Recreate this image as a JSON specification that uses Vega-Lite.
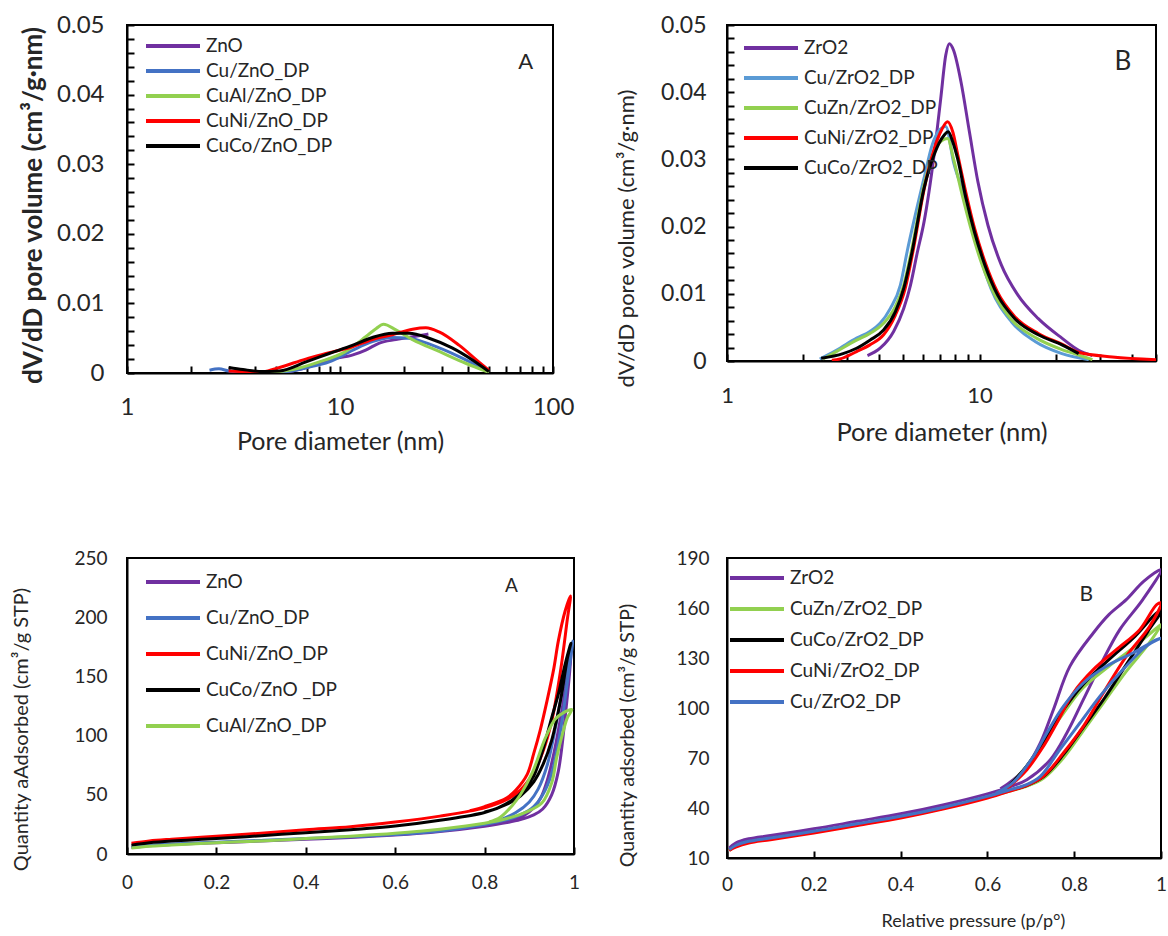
{
  "$schema": "https://vega.github.io/schema/vega-lite/v6.json",
  "padding": {"left": 10, "top": 12, "right": 0, "bottom": 0},
  "background": "white",
  "config": {
    "font": "Lato",
    "view": {"stroke": "#000", "strokeWidth": 2},
    "axis": {"grid": false, "domainColor": "#000", "domainWidth": 2, "tickColor": "#000", "tickWidth": 2, "labelColor": "#262626", "titleColor": "#262626", "labelFont": "Lato", "titleFont": "Lato", "labelFlush": false, "labelOverlap": false, "titleFontWeight": "normal"},
    "legend": {"labelFont": "Lato", "labelColor": "#262626", "padding": 0, "symbolType": "M-2.7,0H2.7", "symbolSize": 400, "symbolStrokeWidth": 4, "labelLimit": 300},
    "text": {"font": "Lato", "color": "#262626"}
  },
  "datasets": {
    "tl": [
      {"s": "ZnO", "d": 4.5, "v": 0.0},
      {"s": "ZnO", "d": 6, "v": 0.0003},
      {"s": "ZnO", "d": 7, "v": 0.0008},
      {"s": "ZnO", "d": 8.9, "v": 0.0019},
      {"s": "ZnO", "d": 11.5, "v": 0.0026},
      {"s": "ZnO", "d": 13.2, "v": 0.0033},
      {"s": "ZnO", "d": 15.3, "v": 0.0043},
      {"s": "ZnO", "d": 18.3, "v": 0.0048},
      {"s": "ZnO", "d": 21.9, "v": 0.0052},
      {"s": "ZnO", "d": 26, "v": 0.0056},
      {"s": "Cu/ZnO_DP", "d": 2.44, "v": 0.0004},
      {"s": "Cu/ZnO_DP", "d": 2.7, "v": 0.0006},
      {"s": "Cu/ZnO_DP", "d": 3.0, "v": 0.0003},
      {"s": "Cu/ZnO_DP", "d": 3.5, "v": 0.0001},
      {"s": "Cu/ZnO_DP", "d": 5.2, "v": 0.0001},
      {"s": "Cu/ZnO_DP", "d": 7.06, "v": 0.0008},
      {"s": "Cu/ZnO_DP", "d": 8.9, "v": 0.0016},
      {"s": "Cu/ZnO_DP", "d": 11.5, "v": 0.0033},
      {"s": "Cu/ZnO_DP", "d": 14.2, "v": 0.0045},
      {"s": "Cu/ZnO_DP", "d": 17.6, "v": 0.0051},
      {"s": "Cu/ZnO_DP", "d": 21, "v": 0.005},
      {"s": "Cu/ZnO_DP", "d": 27.1, "v": 0.004},
      {"s": "Cu/ZnO_DP", "d": 36, "v": 0.0024},
      {"s": "Cu/ZnO_DP", "d": 50, "v": 0.0002},
      {"s": "CuAl/ZnO_DP", "d": 4.5, "v": 0.0},
      {"s": "CuAl/ZnO_DP", "d": 6, "v": 0.0005},
      {"s": "CuAl/ZnO_DP", "d": 8, "v": 0.0016},
      {"s": "CuAl/ZnO_DP", "d": 10.5, "v": 0.003},
      {"s": "CuAl/ZnO_DP", "d": 13.2, "v": 0.0052},
      {"s": "CuAl/ZnO_DP", "d": 14.8, "v": 0.0064},
      {"s": "CuAl/ZnO_DP", "d": 16, "v": 0.007},
      {"s": "CuAl/ZnO_DP", "d": 18.3, "v": 0.0062},
      {"s": "CuAl/ZnO_DP", "d": 21.9, "v": 0.0048},
      {"s": "CuAl/ZnO_DP", "d": 29.2, "v": 0.0031},
      {"s": "CuAl/ZnO_DP", "d": 38.9, "v": 0.0014},
      {"s": "CuAl/ZnO_DP", "d": 50, "v": 0.0001},
      {"s": "CuNi/ZnO_DP", "d": 3, "v": 0.0003},
      {"s": "CuNi/ZnO_DP", "d": 3.5, "v": 0.0002},
      {"s": "CuNi/ZnO_DP", "d": 4.35, "v": 0.0002},
      {"s": "CuNi/ZnO_DP", "d": 5.2, "v": 0.0008},
      {"s": "CuNi/ZnO_DP", "d": 6.9, "v": 0.002},
      {"s": "CuNi/ZnO_DP", "d": 8.9, "v": 0.0029},
      {"s": "CuNi/ZnO_DP", "d": 11.5, "v": 0.0038},
      {"s": "CuNi/ZnO_DP", "d": 14.2, "v": 0.0048},
      {"s": "CuNi/ZnO_DP", "d": 17.6, "v": 0.0055},
      {"s": "CuNi/ZnO_DP", "d": 21.9, "v": 0.0063},
      {"s": "CuNi/ZnO_DP", "d": 25.3, "v": 0.0065},
      {"s": "CuNi/ZnO_DP", "d": 29.2, "v": 0.0059},
      {"s": "CuNi/ZnO_DP", "d": 36.2, "v": 0.004},
      {"s": "CuNi/ZnO_DP", "d": 44.8, "v": 0.0016},
      {"s": "CuNi/ZnO_DP", "d": 50, "v": 0.0004},
      {"s": "CuCo/ZnO_DP", "d": 3.01, "v": 0.0008},
      {"s": "CuCo/ZnO_DP", "d": 3.5, "v": 0.0005},
      {"s": "CuCo/ZnO_DP", "d": 4.35, "v": 0.0002},
      {"s": "CuCo/ZnO_DP", "d": 5.2, "v": 0.0003},
      {"s": "CuCo/ZnO_DP", "d": 6.93, "v": 0.0016},
      {"s": "CuCo/ZnO_DP", "d": 8.9, "v": 0.0028},
      {"s": "CuCo/ZnO_DP", "d": 11.5, "v": 0.004},
      {"s": "CuCo/ZnO_DP", "d": 14.2, "v": 0.0051},
      {"s": "CuCo/ZnO_DP", "d": 17.6, "v": 0.0057},
      {"s": "CuCo/ZnO_DP", "d": 21.1, "v": 0.0057},
      {"s": "CuCo/ZnO_DP", "d": 26.2, "v": 0.005},
      {"s": "CuCo/ZnO_DP", "d": 33.6, "v": 0.0036},
      {"s": "CuCo/ZnO_DP", "d": 41.7, "v": 0.0019},
      {"s": "CuCo/ZnO_DP", "d": 50, "v": 0.0002}
    ],
    "tr": [
      {"s": "ZrO2", "d": 3.6, "v": 0.0008},
      {"s": "ZrO2", "d": 4.04, "v": 0.0019},
      {"s": "ZrO2", "d": 4.57, "v": 0.0044},
      {"s": "ZrO2", "d": 5.01, "v": 0.0078},
      {"s": "ZrO2", "d": 5.33, "v": 0.0113},
      {"s": "ZrO2", "d": 5.66, "v": 0.016},
      {"s": "ZrO2", "d": 6.03, "v": 0.0207},
      {"s": "ZrO2", "d": 6.61, "v": 0.0307},
      {"s": "ZrO2", "d": 7.02, "v": 0.039},
      {"s": "ZrO2", "d": 7.35, "v": 0.0455},
      {"s": "ZrO2", "d": 7.6, "v": 0.0472},
      {"s": "ZrO2", "d": 7.9, "v": 0.0462},
      {"s": "ZrO2", "d": 8.44, "v": 0.0416},
      {"s": "ZrO2", "d": 9.12, "v": 0.0341},
      {"s": "ZrO2", "d": 9.85, "v": 0.0267},
      {"s": "ZrO2", "d": 10.8, "v": 0.0202},
      {"s": "ZrO2", "d": 12.2, "v": 0.0143},
      {"s": "ZrO2", "d": 14.2, "v": 0.0098},
      {"s": "ZrO2", "d": 17.1, "v": 0.0063},
      {"s": "ZrO2", "d": 21.2, "v": 0.0034},
      {"s": "ZrO2", "d": 24.7, "v": 0.0016},
      {"s": "ZrO2", "d": 28, "v": 0.0008},
      {"s": "Cu/ZrO2_DP", "d": 2.33, "v": 0.0003},
      {"s": "Cu/ZrO2_DP", "d": 2.71, "v": 0.0016},
      {"s": "Cu/ZrO2_DP", "d": 3.26, "v": 0.0034},
      {"s": "Cu/ZrO2_DP", "d": 3.68, "v": 0.0044},
      {"s": "Cu/ZrO2_DP", "d": 4.04, "v": 0.0056},
      {"s": "Cu/ZrO2_DP", "d": 4.43, "v": 0.0078},
      {"s": "Cu/ZrO2_DP", "d": 4.86, "v": 0.0113},
      {"s": "Cu/ZrO2_DP", "d": 5.17, "v": 0.0163},
      {"s": "Cu/ZrO2_DP", "d": 6.03, "v": 0.0272},
      {"s": "Cu/ZrO2_DP", "d": 6.5, "v": 0.0322},
      {"s": "Cu/ZrO2_DP", "d": 7.0, "v": 0.0345},
      {"s": "Cu/ZrO2_DP", "d": 7.35, "v": 0.0349},
      {"s": "Cu/ZrO2_DP", "d": 7.9, "v": 0.0295},
      {"s": "Cu/ZrO2_DP", "d": 8.98, "v": 0.0232},
      {"s": "Cu/ZrO2_DP", "d": 9.85, "v": 0.0168},
      {"s": "Cu/ZrO2_DP", "d": 11.1, "v": 0.0108},
      {"s": "Cu/ZrO2_DP", "d": 13.4, "v": 0.0058},
      {"s": "Cu/ZrO2_DP", "d": 16.6, "v": 0.0029},
      {"s": "Cu/ZrO2_DP", "d": 21.2, "v": 0.0011},
      {"s": "Cu/ZrO2_DP", "d": 27.1, "v": 0.0002},
      {"s": "CuZn/ZrO2_DP", "d": 2.4, "v": 0.0003},
      {"s": "CuZn/ZrO2_DP", "d": 2.71, "v": 0.0014},
      {"s": "CuZn/ZrO2_DP", "d": 3.26, "v": 0.0031},
      {"s": "CuZn/ZrO2_DP", "d": 3.68, "v": 0.0041},
      {"s": "CuZn/ZrO2_DP", "d": 4.17, "v": 0.0056},
      {"s": "CuZn/ZrO2_DP", "d": 4.64, "v": 0.0081},
      {"s": "CuZn/ZrO2_DP", "d": 5.01, "v": 0.0113},
      {"s": "CuZn/ZrO2_DP", "d": 5.37, "v": 0.0163},
      {"s": "CuZn/ZrO2_DP", "d": 6.03, "v": 0.0262},
      {"s": "CuZn/ZrO2_DP", "d": 6.61, "v": 0.0312},
      {"s": "CuZn/ZrO2_DP", "d": 7.1, "v": 0.0328},
      {"s": "CuZn/ZrO2_DP", "d": 7.47, "v": 0.0331},
      {"s": "CuZn/ZrO2_DP", "d": 7.9, "v": 0.03},
      {"s": "CuZn/ZrO2_DP", "d": 8.5, "v": 0.025},
      {"s": "CuZn/ZrO2_DP", "d": 9.2, "v": 0.02},
      {"s": "CuZn/ZrO2_DP", "d": 10.2, "v": 0.0145},
      {"s": "CuZn/ZrO2_DP", "d": 11.5, "v": 0.0098},
      {"s": "CuZn/ZrO2_DP", "d": 13.5, "v": 0.006},
      {"s": "CuZn/ZrO2_DP", "d": 16.8, "v": 0.0034},
      {"s": "CuZn/ZrO2_DP", "d": 21.2, "v": 0.0017},
      {"s": "CuZn/ZrO2_DP", "d": 24.7, "v": 0.0009},
      {"s": "CuZn/ZrO2_DP", "d": 28, "v": 0.0002},
      {"s": "CuNi/ZrO2_DP", "d": 2.6, "v": 0.0001},
      {"s": "CuNi/ZrO2_DP", "d": 2.8, "v": 0.0003},
      {"s": "CuNi/ZrO2_DP", "d": 3.26, "v": 0.0014},
      {"s": "CuNi/ZrO2_DP", "d": 3.68, "v": 0.0024},
      {"s": "CuNi/ZrO2_DP", "d": 4.17, "v": 0.0039},
      {"s": "CuNi/ZrO2_DP", "d": 4.64, "v": 0.0068},
      {"s": "CuNi/ZrO2_DP", "d": 5.08, "v": 0.0108},
      {"s": "CuNi/ZrO2_DP", "d": 5.45, "v": 0.0163},
      {"s": "CuNi/ZrO2_DP", "d": 6.03, "v": 0.0255},
      {"s": "CuNi/ZrO2_DP", "d": 6.61, "v": 0.0315},
      {"s": "CuNi/ZrO2_DP", "d": 7.1, "v": 0.0345},
      {"s": "CuNi/ZrO2_DP", "d": 7.47, "v": 0.0356},
      {"s": "CuNi/ZrO2_DP", "d": 7.85, "v": 0.034},
      {"s": "CuNi/ZrO2_DP", "d": 8.19, "v": 0.0308},
      {"s": "CuNi/ZrO2_DP", "d": 8.84, "v": 0.025},
      {"s": "CuNi/ZrO2_DP", "d": 9.55, "v": 0.0198},
      {"s": "CuNi/ZrO2_DP", "d": 10.5, "v": 0.0148},
      {"s": "CuNi/ZrO2_DP", "d": 11.8, "v": 0.0102},
      {"s": "CuNi/ZrO2_DP", "d": 13.8, "v": 0.0066},
      {"s": "CuNi/ZrO2_DP", "d": 17.1, "v": 0.0041},
      {"s": "CuNi/ZrO2_DP", "d": 21.2, "v": 0.0025},
      {"s": "CuNi/ZrO2_DP", "d": 24.7, "v": 0.0013},
      {"s": "CuNi/ZrO2_DP", "d": 33.6, "v": 0.0006},
      {"s": "CuNi/ZrO2_DP", "d": 50, "v": 0.0002},
      {"s": "CuCo/ZrO2_DP", "d": 2.36, "v": 0.0004},
      {"s": "CuCo/ZrO2_DP", "d": 2.88, "v": 0.0011},
      {"s": "CuCo/ZrO2_DP", "d": 3.26, "v": 0.0019},
      {"s": "CuCo/ZrO2_DP", "d": 3.68, "v": 0.0031},
      {"s": "CuCo/ZrO2_DP", "d": 4.17, "v": 0.0046},
      {"s": "CuCo/ZrO2_DP", "d": 4.64, "v": 0.0073},
      {"s": "CuCo/ZrO2_DP", "d": 5.01, "v": 0.0108},
      {"s": "CuCo/ZrO2_DP", "d": 5.41, "v": 0.0163},
      {"s": "CuCo/ZrO2_DP", "d": 6.03, "v": 0.0257},
      {"s": "CuCo/ZrO2_DP", "d": 6.61, "v": 0.0307},
      {"s": "CuCo/ZrO2_DP", "d": 7.24, "v": 0.0336},
      {"s": "CuCo/ZrO2_DP", "d": 7.52, "v": 0.0341},
      {"s": "CuCo/ZrO2_DP", "d": 7.85, "v": 0.0325},
      {"s": "CuCo/ZrO2_DP", "d": 8.19, "v": 0.0301},
      {"s": "CuCo/ZrO2_DP", "d": 8.84, "v": 0.0242},
      {"s": "CuCo/ZrO2_DP", "d": 9.55, "v": 0.0192},
      {"s": "CuCo/ZrO2_DP", "d": 10.5, "v": 0.0143},
      {"s": "CuCo/ZrO2_DP", "d": 11.8, "v": 0.0098},
      {"s": "CuCo/ZrO2_DP", "d": 13.8, "v": 0.0063},
      {"s": "CuCo/ZrO2_DP", "d": 17.1, "v": 0.0039},
      {"s": "CuCo/ZrO2_DP", "d": 21.2, "v": 0.0024},
      {"s": "CuCo/ZrO2_DP", "d": 24.7, "v": 0.0011}
    ],
    "bl": [
      {"s": "ZnO", "i": 1, "p": 0.01, "q": 5.5},
      {"s": "ZnO", "i": 2, "p": 0.05, "q": 7},
      {"s": "ZnO", "i": 3, "p": 0.1, "q": 8},
      {"s": "ZnO", "i": 4, "p": 0.2, "q": 9.5},
      {"s": "ZnO", "i": 5, "p": 0.3, "q": 11},
      {"s": "ZnO", "i": 6, "p": 0.4, "q": 12.5},
      {"s": "ZnO", "i": 7, "p": 0.5, "q": 14},
      {"s": "ZnO", "i": 8, "p": 0.6, "q": 16},
      {"s": "ZnO", "i": 9, "p": 0.7, "q": 19},
      {"s": "ZnO", "i": 10, "p": 0.8, "q": 23.5},
      {"s": "ZnO", "i": 11, "p": 0.85, "q": 26.5},
      {"s": "ZnO", "i": 12, "p": 0.88, "q": 29},
      {"s": "ZnO", "i": 13, "p": 0.91, "q": 33},
      {"s": "ZnO", "i": 14, "p": 0.93, "q": 38},
      {"s": "ZnO", "i": 15, "p": 0.95, "q": 50},
      {"s": "ZnO", "i": 16, "p": 0.965, "q": 70},
      {"s": "ZnO", "i": 17, "p": 0.98, "q": 115},
      {"s": "ZnO", "i": 18, "p": 0.995, "q": 176},
      {"s": "ZnO", "i": 19, "p": 0.985, "q": 150},
      {"s": "ZnO", "i": 20, "p": 0.97, "q": 115},
      {"s": "ZnO", "i": 21, "p": 0.955, "q": 85},
      {"s": "ZnO", "i": 22, "p": 0.94, "q": 62},
      {"s": "ZnO", "i": 23, "p": 0.925, "q": 47},
      {"s": "ZnO", "i": 24, "p": 0.91, "q": 39},
      {"s": "ZnO", "i": 25, "p": 0.89, "q": 33},
      {"s": "ZnO", "i": 26, "p": 0.86, "q": 28.5},
      {"s": "ZnO", "i": 27, "p": 0.82, "q": 25},
      {"s": "Cu/ZnO_DP", "i": 1, "p": 0.01, "q": 6},
      {"s": "Cu/ZnO_DP", "i": 2, "p": 0.05, "q": 7.5},
      {"s": "Cu/ZnO_DP", "i": 3, "p": 0.1, "q": 8.5},
      {"s": "Cu/ZnO_DP", "i": 4, "p": 0.2, "q": 10},
      {"s": "Cu/ZnO_DP", "i": 5, "p": 0.3, "q": 11.5},
      {"s": "Cu/ZnO_DP", "i": 6, "p": 0.4, "q": 13},
      {"s": "Cu/ZnO_DP", "i": 7, "p": 0.5, "q": 14.5},
      {"s": "Cu/ZnO_DP", "i": 8, "p": 0.6, "q": 16.5},
      {"s": "Cu/ZnO_DP", "i": 9, "p": 0.7, "q": 19.5},
      {"s": "Cu/ZnO_DP", "i": 10, "p": 0.8, "q": 25},
      {"s": "Cu/ZnO_DP", "i": 11, "p": 0.85, "q": 29},
      {"s": "Cu/ZnO_DP", "i": 12, "p": 0.88, "q": 33},
      {"s": "Cu/ZnO_DP", "i": 13, "p": 0.91, "q": 40},
      {"s": "Cu/ZnO_DP", "i": 14, "p": 0.93, "q": 50},
      {"s": "Cu/ZnO_DP", "i": 15, "p": 0.95, "q": 68},
      {"s": "Cu/ZnO_DP", "i": 16, "p": 0.97, "q": 105},
      {"s": "Cu/ZnO_DP", "i": 17, "p": 0.985, "q": 145},
      {"s": "Cu/ZnO_DP", "i": 18, "p": 0.997, "q": 180},
      {"s": "Cu/ZnO_DP", "i": 19, "p": 0.985, "q": 160},
      {"s": "Cu/ZnO_DP", "i": 20, "p": 0.97, "q": 130},
      {"s": "Cu/ZnO_DP", "i": 21, "p": 0.955, "q": 100},
      {"s": "Cu/ZnO_DP", "i": 22, "p": 0.94, "q": 75},
      {"s": "Cu/ZnO_DP", "i": 23, "p": 0.92, "q": 55},
      {"s": "Cu/ZnO_DP", "i": 24, "p": 0.9, "q": 44},
      {"s": "Cu/ZnO_DP", "i": 25, "p": 0.87, "q": 35},
      {"s": "Cu/ZnO_DP", "i": 26, "p": 0.83, "q": 28},
      {"s": "CuNi/ZnO_DP", "i": 1, "p": 0.01, "q": 9},
      {"s": "CuNi/ZnO_DP", "i": 2, "p": 0.05, "q": 11},
      {"s": "CuNi/ZnO_DP", "i": 3, "p": 0.1, "q": 12.5},
      {"s": "CuNi/ZnO_DP", "i": 4, "p": 0.2, "q": 15},
      {"s": "CuNi/ZnO_DP", "i": 5, "p": 0.3, "q": 17.5},
      {"s": "CuNi/ZnO_DP", "i": 6, "p": 0.4, "q": 20.5},
      {"s": "CuNi/ZnO_DP", "i": 7, "p": 0.5, "q": 23},
      {"s": "CuNi/ZnO_DP", "i": 8, "p": 0.6, "q": 27},
      {"s": "CuNi/ZnO_DP", "i": 9, "p": 0.7, "q": 32},
      {"s": "CuNi/ZnO_DP", "i": 10, "p": 0.8, "q": 39},
      {"s": "CuNi/ZnO_DP", "i": 11, "p": 0.85, "q": 46},
      {"s": "CuNi/ZnO_DP", "i": 12, "p": 0.88, "q": 54},
      {"s": "CuNi/ZnO_DP", "i": 13, "p": 0.91, "q": 69},
      {"s": "CuNi/ZnO_DP", "i": 14, "p": 0.93, "q": 86},
      {"s": "CuNi/ZnO_DP", "i": 15, "p": 0.95, "q": 112},
      {"s": "CuNi/ZnO_DP", "i": 16, "p": 0.97, "q": 155},
      {"s": "CuNi/ZnO_DP", "i": 17, "p": 0.985, "q": 198},
      {"s": "CuNi/ZnO_DP", "i": 18, "p": 0.992, "q": 218},
      {"s": "CuNi/ZnO_DP", "i": 19, "p": 0.98, "q": 205},
      {"s": "CuNi/ZnO_DP", "i": 20, "p": 0.965, "q": 180},
      {"s": "CuNi/ZnO_DP", "i": 21, "p": 0.955, "q": 157},
      {"s": "CuNi/ZnO_DP", "i": 22, "p": 0.94, "q": 130},
      {"s": "CuNi/ZnO_DP", "i": 23, "p": 0.924, "q": 104},
      {"s": "CuNi/ZnO_DP", "i": 24, "p": 0.91, "q": 85},
      {"s": "CuNi/ZnO_DP", "i": 25, "p": 0.895, "q": 67},
      {"s": "CuNi/ZnO_DP", "i": 26, "p": 0.87, "q": 54},
      {"s": "CuNi/ZnO_DP", "i": 27, "p": 0.85, "q": 47.5},
      {"s": "CuNi/ZnO_DP", "i": 28, "p": 0.8, "q": 40},
      {"s": "CuNi/ZnO_DP", "i": 29, "p": 0.767, "q": 36.5},
      {"s": "CuCo/ZnO _DP", "i": 1, "p": 0.01, "q": 7.5},
      {"s": "CuCo/ZnO _DP", "i": 2, "p": 0.05, "q": 9.5},
      {"s": "CuCo/ZnO _DP", "i": 3, "p": 0.1, "q": 11},
      {"s": "CuCo/ZnO _DP", "i": 4, "p": 0.2, "q": 13},
      {"s": "CuCo/ZnO _DP", "i": 5, "p": 0.3, "q": 15.5},
      {"s": "CuCo/ZnO _DP", "i": 6, "p": 0.4, "q": 18},
      {"s": "CuCo/ZnO _DP", "i": 7, "p": 0.5, "q": 20.5},
      {"s": "CuCo/ZnO _DP", "i": 8, "p": 0.6, "q": 23.6},
      {"s": "CuCo/ZnO _DP", "i": 9, "p": 0.7, "q": 28.5},
      {"s": "CuCo/ZnO _DP", "i": 10, "p": 0.8, "q": 35},
      {"s": "CuCo/ZnO _DP", "i": 11, "p": 0.85, "q": 42},
      {"s": "CuCo/ZnO _DP", "i": 12, "p": 0.88, "q": 49},
      {"s": "CuCo/ZnO _DP", "i": 13, "p": 0.91, "q": 61},
      {"s": "CuCo/ZnO _DP", "i": 14, "p": 0.93, "q": 75},
      {"s": "CuCo/ZnO _DP", "i": 15, "p": 0.95, "q": 96},
      {"s": "CuCo/ZnO _DP", "i": 16, "p": 0.97, "q": 130},
      {"s": "CuCo/ZnO _DP", "i": 17, "p": 0.985, "q": 165},
      {"s": "CuCo/ZnO _DP", "i": 18, "p": 0.993, "q": 178},
      {"s": "CuCo/ZnO _DP", "i": 19, "p": 0.98, "q": 160},
      {"s": "CuCo/ZnO _DP", "i": 20, "p": 0.965, "q": 135},
      {"s": "CuCo/ZnO _DP", "i": 21, "p": 0.95, "q": 115},
      {"s": "CuCo/ZnO _DP", "i": 22, "p": 0.928, "q": 85},
      {"s": "CuCo/ZnO _DP", "i": 23, "p": 0.91, "q": 66},
      {"s": "CuCo/ZnO _DP", "i": 24, "p": 0.89, "q": 55},
      {"s": "CuCo/ZnO _DP", "i": 25, "p": 0.86, "q": 45},
      {"s": "CuCo/ZnO _DP", "i": 26, "p": 0.83, "q": 39},
      {"s": "CuCo/ZnO _DP", "i": 27, "p": 0.8, "q": 35.5},
      {"s": "CuAl/ZnO_DP", "i": 1, "p": 0.01, "q": 5},
      {"s": "CuAl/ZnO_DP", "i": 2, "p": 0.05, "q": 6.5},
      {"s": "CuAl/ZnO_DP", "i": 3, "p": 0.1, "q": 7.5},
      {"s": "CuAl/ZnO_DP", "i": 4, "p": 0.2, "q": 9.5},
      {"s": "CuAl/ZnO_DP", "i": 5, "p": 0.3, "q": 11},
      {"s": "CuAl/ZnO_DP", "i": 6, "p": 0.4, "q": 13},
      {"s": "CuAl/ZnO_DP", "i": 7, "p": 0.5, "q": 15},
      {"s": "CuAl/ZnO_DP", "i": 8, "p": 0.6, "q": 17.5},
      {"s": "CuAl/ZnO_DP", "i": 9, "p": 0.7, "q": 21},
      {"s": "CuAl/ZnO_DP", "i": 10, "p": 0.8, "q": 26},
      {"s": "CuAl/ZnO_DP", "i": 11, "p": 0.85, "q": 30},
      {"s": "CuAl/ZnO_DP", "i": 12, "p": 0.89, "q": 35},
      {"s": "CuAl/ZnO_DP", "i": 13, "p": 0.928, "q": 43},
      {"s": "CuAl/ZnO_DP", "i": 14, "p": 0.95, "q": 60},
      {"s": "CuAl/ZnO_DP", "i": 15, "p": 0.961, "q": 81},
      {"s": "CuAl/ZnO_DP", "i": 16, "p": 0.972, "q": 98},
      {"s": "CuAl/ZnO_DP", "i": 17, "p": 0.985, "q": 115},
      {"s": "CuAl/ZnO_DP", "i": 18, "p": 0.995, "q": 122},
      {"s": "CuAl/ZnO_DP", "i": 19, "p": 0.975, "q": 119},
      {"s": "CuAl/ZnO_DP", "i": 20, "p": 0.958, "q": 114},
      {"s": "CuAl/ZnO_DP", "i": 21, "p": 0.936, "q": 98},
      {"s": "CuAl/ZnO_DP", "i": 22, "p": 0.906, "q": 68},
      {"s": "CuAl/ZnO_DP", "i": 23, "p": 0.88, "q": 50},
      {"s": "CuAl/ZnO_DP", "i": 24, "p": 0.862, "q": 41},
      {"s": "CuAl/ZnO_DP", "i": 25, "p": 0.835, "q": 31},
      {"s": "CuAl/ZnO_DP", "i": 26, "p": 0.81, "q": 27}
    ],
    "br": [
      {"s": "ZrO2", "i": 1, "p": 0.005, "q": 16},
      {"s": "ZrO2", "i": 2, "p": 0.02, "q": 19},
      {"s": "ZrO2", "i": 3, "p": 0.05, "q": 21.5},
      {"s": "ZrO2", "i": 4, "p": 0.1, "q": 23.5},
      {"s": "ZrO2", "i": 5, "p": 0.2, "q": 27.5},
      {"s": "ZrO2", "i": 6, "p": 0.3, "q": 32},
      {"s": "ZrO2", "i": 7, "p": 0.4, "q": 36.5},
      {"s": "ZrO2", "i": 8, "p": 0.5, "q": 42},
      {"s": "ZrO2", "i": 9, "p": 0.6, "q": 48.5},
      {"s": "ZrO2", "i": 10, "p": 0.65, "q": 52.5},
      {"s": "ZrO2", "i": 11, "p": 0.691, "q": 57},
      {"s": "ZrO2", "i": 12, "p": 0.745, "q": 69},
      {"s": "ZrO2", "i": 13, "p": 0.783, "q": 85},
      {"s": "ZrO2", "i": 14, "p": 0.821, "q": 105},
      {"s": "ZrO2", "i": 15, "p": 0.859, "q": 125},
      {"s": "ZrO2", "i": 16, "p": 0.905, "q": 147},
      {"s": "ZrO2", "i": 17, "p": 0.958, "q": 165},
      {"s": "ZrO2", "i": 18, "p": 1.0, "q": 183},
      {"s": "ZrO2", "i": 19, "p": 0.96, "q": 176},
      {"s": "ZrO2", "i": 20, "p": 0.92, "q": 165},
      {"s": "ZrO2", "i": 21, "p": 0.88, "q": 156},
      {"s": "ZrO2", "i": 22, "p": 0.844, "q": 145},
      {"s": "ZrO2", "i": 23, "p": 0.79, "q": 125},
      {"s": "ZrO2", "i": 24, "p": 0.752, "q": 99},
      {"s": "ZrO2", "i": 25, "p": 0.722, "q": 79},
      {"s": "ZrO2", "i": 26, "p": 0.691, "q": 65},
      {"s": "ZrO2", "i": 27, "p": 0.66, "q": 57},
      {"s": "ZrO2", "i": 28, "p": 0.63, "q": 51.5},
      {"s": "CuZn/ZrO2_DP", "i": 1, "p": 0.005, "q": 14.6},
      {"s": "CuZn/ZrO2_DP", "i": 2, "p": 0.02, "q": 17},
      {"s": "CuZn/ZrO2_DP", "i": 3, "p": 0.05, "q": 19.5},
      {"s": "CuZn/ZrO2_DP", "i": 4, "p": 0.1, "q": 21.5},
      {"s": "CuZn/ZrO2_DP", "i": 5, "p": 0.2, "q": 25.5},
      {"s": "CuZn/ZrO2_DP", "i": 6, "p": 0.3, "q": 30},
      {"s": "CuZn/ZrO2_DP", "i": 7, "p": 0.4, "q": 34.5},
      {"s": "CuZn/ZrO2_DP", "i": 8, "p": 0.5, "q": 40},
      {"s": "CuZn/ZrO2_DP", "i": 9, "p": 0.6, "q": 46.5},
      {"s": "CuZn/ZrO2_DP", "i": 10, "p": 0.65, "q": 50},
      {"s": "CuZn/ZrO2_DP", "i": 11, "p": 0.69, "q": 53},
      {"s": "CuZn/ZrO2_DP", "i": 12, "p": 0.73, "q": 58},
      {"s": "CuZn/ZrO2_DP", "i": 13, "p": 0.775, "q": 70},
      {"s": "CuZn/ZrO2_DP", "i": 14, "p": 0.82, "q": 86},
      {"s": "CuZn/ZrO2_DP", "i": 15, "p": 0.87, "q": 104},
      {"s": "CuZn/ZrO2_DP", "i": 16, "p": 0.92, "q": 122},
      {"s": "CuZn/ZrO2_DP", "i": 17, "p": 0.97, "q": 138},
      {"s": "CuZn/ZrO2_DP", "i": 18, "p": 1.0, "q": 150},
      {"s": "CuZn/ZrO2_DP", "i": 19, "p": 0.99, "q": 148},
      {"s": "CuZn/ZrO2_DP", "i": 20, "p": 0.94, "q": 137},
      {"s": "CuZn/ZrO2_DP", "i": 21, "p": 0.88, "q": 125},
      {"s": "CuZn/ZrO2_DP", "i": 22, "p": 0.82, "q": 112},
      {"s": "CuZn/ZrO2_DP", "i": 23, "p": 0.77, "q": 95},
      {"s": "CuZn/ZrO2_DP", "i": 24, "p": 0.73, "q": 80},
      {"s": "CuZn/ZrO2_DP", "i": 25, "p": 0.69, "q": 65},
      {"s": "CuZn/ZrO2_DP", "i": 26, "p": 0.645, "q": 52},
      {"s": "CuCo/ZrO2_DP", "i": 1, "p": 0.005, "q": 14.8},
      {"s": "CuCo/ZrO2_DP", "i": 2, "p": 0.02, "q": 17.2},
      {"s": "CuCo/ZrO2_DP", "i": 3, "p": 0.05, "q": 19.7},
      {"s": "CuCo/ZrO2_DP", "i": 4, "p": 0.1, "q": 21.7},
      {"s": "CuCo/ZrO2_DP", "i": 5, "p": 0.2, "q": 25.6},
      {"s": "CuCo/ZrO2_DP", "i": 6, "p": 0.3, "q": 30},
      {"s": "CuCo/ZrO2_DP", "i": 7, "p": 0.4, "q": 34.6},
      {"s": "CuCo/ZrO2_DP", "i": 8, "p": 0.5, "q": 40},
      {"s": "CuCo/ZrO2_DP", "i": 9, "p": 0.6, "q": 46.5},
      {"s": "CuCo/ZrO2_DP", "i": 10, "p": 0.65, "q": 50.5},
      {"s": "CuCo/ZrO2_DP", "i": 11, "p": 0.69, "q": 53.5},
      {"s": "CuCo/ZrO2_DP", "i": 12, "p": 0.73, "q": 59},
      {"s": "CuCo/ZrO2_DP", "i": 13, "p": 0.775, "q": 72},
      {"s": "CuCo/ZrO2_DP", "i": 14, "p": 0.82, "q": 88},
      {"s": "CuCo/ZrO2_DP", "i": 15, "p": 0.87, "q": 106},
      {"s": "CuCo/ZrO2_DP", "i": 16, "p": 0.92, "q": 126},
      {"s": "CuCo/ZrO2_DP", "i": 17, "p": 0.97, "q": 146},
      {"s": "CuCo/ZrO2_DP", "i": 18, "p": 1.0, "q": 158},
      {"s": "CuCo/ZrO2_DP", "i": 19, "p": 0.99, "q": 157},
      {"s": "CuCo/ZrO2_DP", "i": 20, "p": 0.94, "q": 143},
      {"s": "CuCo/ZrO2_DP", "i": 21, "p": 0.88, "q": 129},
      {"s": "CuCo/ZrO2_DP", "i": 22, "p": 0.82, "q": 114},
      {"s": "CuCo/ZrO2_DP", "i": 23, "p": 0.77, "q": 97},
      {"s": "CuCo/ZrO2_DP", "i": 24, "p": 0.73, "q": 80},
      {"s": "CuCo/ZrO2_DP", "i": 25, "p": 0.69, "q": 65},
      {"s": "CuCo/ZrO2_DP", "i": 26, "p": 0.645, "q": 52},
      {"s": "CuNi/ZrO2_DP", "i": 1, "p": 0.005, "q": 14.5},
      {"s": "CuNi/ZrO2_DP", "i": 2, "p": 0.02, "q": 16.5},
      {"s": "CuNi/ZrO2_DP", "i": 3, "p": 0.05, "q": 19},
      {"s": "CuNi/ZrO2_DP", "i": 4, "p": 0.1, "q": 21},
      {"s": "CuNi/ZrO2_DP", "i": 5, "p": 0.2, "q": 25},
      {"s": "CuNi/ZrO2_DP", "i": 6, "p": 0.3, "q": 29.5},
      {"s": "CuNi/ZrO2_DP", "i": 7, "p": 0.4, "q": 34},
      {"s": "CuNi/ZrO2_DP", "i": 8, "p": 0.5, "q": 39.5},
      {"s": "CuNi/ZrO2_DP", "i": 9, "p": 0.6, "q": 46},
      {"s": "CuNi/ZrO2_DP", "i": 10, "p": 0.65, "q": 50},
      {"s": "CuNi/ZrO2_DP", "i": 11, "p": 0.69, "q": 53.5},
      {"s": "CuNi/ZrO2_DP", "i": 12, "p": 0.729, "q": 59},
      {"s": "CuNi/ZrO2_DP", "i": 13, "p": 0.775, "q": 73},
      {"s": "CuNi/ZrO2_DP", "i": 14, "p": 0.821, "q": 89},
      {"s": "CuNi/ZrO2_DP", "i": 15, "p": 0.867, "q": 109},
      {"s": "CuNi/ZrO2_DP", "i": 16, "p": 0.92, "q": 131},
      {"s": "CuNi/ZrO2_DP", "i": 17, "p": 0.974, "q": 149},
      {"s": "CuNi/ZrO2_DP", "i": 18, "p": 1.0, "q": 163},
      {"s": "CuNi/ZrO2_DP", "i": 19, "p": 0.99, "q": 162},
      {"s": "CuNi/ZrO2_DP", "i": 20, "p": 0.951, "q": 147},
      {"s": "CuNi/ZrO2_DP", "i": 21, "p": 0.897, "q": 135},
      {"s": "CuNi/ZrO2_DP", "i": 22, "p": 0.844, "q": 123},
      {"s": "CuNi/ZrO2_DP", "i": 23, "p": 0.798, "q": 109},
      {"s": "CuNi/ZrO2_DP", "i": 24, "p": 0.76, "q": 91},
      {"s": "CuNi/ZrO2_DP", "i": 25, "p": 0.729, "q": 77},
      {"s": "CuNi/ZrO2_DP", "i": 26, "p": 0.691, "q": 63},
      {"s": "CuNi/ZrO2_DP", "i": 27, "p": 0.645, "q": 51.5},
      {"s": "Cu/ZrO2_DP", "i": 1, "p": 0.005, "q": 15},
      {"s": "Cu/ZrO2_DP", "i": 2, "p": 0.02, "q": 17.5},
      {"s": "Cu/ZrO2_DP", "i": 3, "p": 0.05, "q": 20},
      {"s": "Cu/ZrO2_DP", "i": 4, "p": 0.1, "q": 22},
      {"s": "Cu/ZrO2_DP", "i": 5, "p": 0.2, "q": 26},
      {"s": "Cu/ZrO2_DP", "i": 6, "p": 0.3, "q": 30.5},
      {"s": "Cu/ZrO2_DP", "i": 7, "p": 0.4, "q": 35},
      {"s": "Cu/ZrO2_DP", "i": 8, "p": 0.5, "q": 40.5},
      {"s": "Cu/ZrO2_DP", "i": 9, "p": 0.6, "q": 47},
      {"s": "Cu/ZrO2_DP", "i": 10, "p": 0.653, "q": 51},
      {"s": "Cu/ZrO2_DP", "i": 11, "p": 0.69, "q": 54},
      {"s": "Cu/ZrO2_DP", "i": 12, "p": 0.722, "q": 59},
      {"s": "Cu/ZrO2_DP", "i": 13, "p": 0.767, "q": 75},
      {"s": "Cu/ZrO2_DP", "i": 14, "p": 0.813, "q": 91},
      {"s": "Cu/ZrO2_DP", "i": 15, "p": 0.859, "q": 107},
      {"s": "Cu/ZrO2_DP", "i": 16, "p": 0.905, "q": 121},
      {"s": "Cu/ZrO2_DP", "i": 17, "p": 0.966, "q": 137},
      {"s": "Cu/ZrO2_DP", "i": 18, "p": 1.0, "q": 142},
      {"s": "Cu/ZrO2_DP", "i": 19, "p": 0.99, "q": 141},
      {"s": "Cu/ZrO2_DP", "i": 20, "p": 0.935, "q": 133},
      {"s": "Cu/ZrO2_DP", "i": 21, "p": 0.874, "q": 125},
      {"s": "Cu/ZrO2_DP", "i": 22, "p": 0.821, "q": 115},
      {"s": "Cu/ZrO2_DP", "i": 23, "p": 0.775, "q": 101},
      {"s": "Cu/ZrO2_DP", "i": 24, "p": 0.737, "q": 85},
      {"s": "Cu/ZrO2_DP", "i": 25, "p": 0.706, "q": 71},
      {"s": "Cu/ZrO2_DP", "i": 26, "p": 0.66, "q": 55.5},
      {"s": "Cu/ZrO2_DP", "i": 27, "p": 0.62, "q": 48.8}
    ]
  },
  "bounds": "flush",
  "columns": 2,
  "spacing": {"row": 185, "column": 153},
  "resolve": {"scale": {"color": "independent"}, "legend": {"color": "independent"}},
  "concat": [
    {
      "width": 426, "height": 348,
      "layer": [
        {
          "data": {"name": "tl"},
          "mark": {"type": "line", "interpolate": "monotone", "strokeWidth": 3, "clip": true},
          "encoding": {
            "x": {"field": "d", "type": "quantitative", "scale": {"type": "log", "domain": [1, 100], "nice": false},
              "axis": {"title": "Pore diameter (nm)", "values": [1,2,3,4,5,6,7,8,9,10,20,30,40,50,60,70,80,90,100], "tickCount": 100, "labelExpr": "datum.value == 1 || datum.value == 10 || datum.value == 100 ? format(datum.value, 'd') : ''", "labelOverlap": false, "tickSize": -7, "labelPadding": 29, "labelFontSize": 24, "titleFontSize": 25, "titlePadding": 10}},
            "y": {"field": "v", "type": "quantitative", "scale": {"domain": [0, 0.05], "nice": false},
              "axis": {"title": "dV/dD pore volume (cm³/g·nm)", "values": [0,0.002,0.004,0.006,0.008,0.01,0.012,0.014,0.016,0.018,0.02,0.022,0.024,0.026,0.028,0.03,0.032,0.034,0.036,0.038,0.04,0.042,0.044,0.046,0.048,0.05], "tickCount": 100, "labelExpr": "abs(datum.value*100 - round(datum.value*100)) < 0.001 ? format(datum.value, '~g') : ''", "labelOverlap": false, "tickSize": -7, "labelPadding": 30, "labelFontSize": 24, "titleFontSize": 26, "titleFontWeight": "bold", "titlePadding": 10, "titleY": 180}},
            "color": {"field": "s", "type": "nominal", "sort": null,
              "scale": {"domain": ["ZnO", "Cu/ZnO_DP", "CuAl/ZnO_DP", "CuNi/ZnO_DP", "CuCo/ZnO_DP"], "range": ["#7030A0", "#4472C4", "#92D050", "#FF0000", "#000000"]},
              "legend": {"title": null, "orient": "none", "legendX": 34, "legendY": 9, "labelFontSize": 19, "labelOffset": 21, "rowPadding": 3}}
          }
        },
        {
          "data": {"values": [{}]},
          "mark": {"type": "text", "fontSize": 22},
          "encoding": {"x": {"datum": 74.5}, "y": {"datum": 0.0447}, "text": {"value": "A"}}
        }
      ]
    },
    {
      "width": 429, "height": 336,
      "layer": [
        {
          "data": {"name": "tr"},
          "mark": {"type": "line", "interpolate": "monotone", "strokeWidth": 3, "clip": true},
          "encoding": {
            "x": {"field": "d", "type": "quantitative", "scale": {"type": "log", "domain": [1, 50], "nice": false},
              "axis": {"title": "Pore diameter (nm)", "values": [1,2,3,4,5,6,7,8,9,10,20,30,40,50], "tickCount": 100, "labelExpr": "datum.value == 1 || datum.value == 10 ? format(datum.value, 'd') : ''", "labelOverlap": false, "tickSize": -7, "labelPadding": 31, "labelFontSize": 22, "titleFontSize": 25.5, "titlePadding": 14}},
            "y": {"field": "v", "type": "quantitative", "scale": {"domain": [0, 0.05], "nice": false},
              "axis": {"title": "dV/dD pore volume (cm³/g·nm)", "values": [0,0.002,0.004,0.006,0.008,0.01,0.012,0.014,0.016,0.018,0.02,0.022,0.024,0.026,0.028,0.03,0.032,0.034,0.036,0.038,0.04,0.042,0.044,0.046,0.048,0.05], "tickCount": 100, "labelExpr": "abs(datum.value*100 - round(datum.value*100)) < 0.001 ? format(datum.value, '~g') : ''", "labelOverlap": false, "tickSize": -7, "labelPadding": 28, "labelFontSize": 23, "titleFontSize": 22, "titlePadding": 22, "titleY": 213}},
            "color": {"field": "s", "type": "nominal", "sort": null,
              "scale": {"domain": ["ZrO2", "Cu/ZrO2_DP", "CuZn/ZrO2_DP", "CuNi/ZrO2_DP", "CuCo/ZrO2_DP"], "range": ["#7030A0", "#5B9BD5", "#92D050", "#FF0000", "#000000"]},
              "legend": {"title": null, "orient": "none", "legendX": 32, "legendY": 11, "labelFontSize": 19, "labelOffset": 21, "rowPadding": 8}}
          }
        },
        {
          "data": {"values": [{}]},
          "mark": {"type": "text", "fontSize": 26},
          "encoding": {"x": {"datum": 37}, "y": {"datum": 0.0445}, "text": {"value": "B"}}
        }
      ]
    },
    {
      "width": 447, "height": 296,
      "layer": [
        {
          "data": {"name": "bl"},
          "mark": {"type": "line", "interpolate": "catmull-rom", "strokeWidth": 3, "clip": true},
          "encoding": {
            "x": {"field": "p", "type": "quantitative", "scale": {"domain": [0, 1], "nice": false},
              "axis": {"title": null, "values": [0, 0.2, 0.4, 0.6, 0.8, 1], "tickCount": 100, "format": "~g", "labelOverlap": false, "tickSize": -7, "labelPadding": 26, "labelFontSize": 19}},
            "y": {"field": "q", "type": "quantitative", "scale": {"domain": [0, 250], "nice": false},
              "axis": {"title": "Quantity aAdsorbed (cm³/g STP)", "values": [0, 50, 100, 150, 200, 250], "tickCount": 100, "labelOverlap": false, "ticks": false, "labelPadding": 20, "labelFontSize": 19, "titleFontSize": 20, "titlePadding": 42, "titleY": 171}},
            "order": {"field": "i", "type": "quantitative"},
            "color": {"field": "s", "type": "nominal", "sort": null,
              "scale": {"domain": ["ZnO", "Cu/ZnO_DP", "CuNi/ZnO_DP", "CuCo/ZnO _DP", "CuAl/ZnO_DP"], "range": ["#7030A0", "#4472C4", "#FF0000", "#000000", "#92D050"]},
              "legend": {"title": null, "orient": "none", "legendX": 34, "legendY": 12, "labelFontSize": 19, "labelOffset": 21, "rowPadding": 14}}
          }
        },
        {
          "data": {"values": [{}]},
          "mark": {"type": "text", "fontSize": 19},
          "encoding": {"x": {"datum": 0.86}, "y": {"datum": 226}, "text": {"value": "A"}}
        }
      ]
    },
    {
      "width": 434, "height": 300,
      "layer": [
        {
          "data": {"name": "br"},
          "mark": {"type": "line", "interpolate": "catmull-rom", "strokeWidth": 3, "clip": true},
          "encoding": {
            "x": {"field": "p", "type": "quantitative", "scale": {"domain": [0, 1], "nice": false},
              "axis": {"title": "Relative pressure (p/p°)", "values": [0, 0.2, 0.4, 0.6, 0.8, 1], "tickCount": 100, "format": "~g", "labelOverlap": false, "tickSize": -7, "labelPadding": 24, "labelFontSize": 19, "titleFontSize": 18, "titlePadding": 18, "titleX": 246}},
            "y": {"field": "q", "type": "quantitative", "scale": {"domain": [10, 190], "nice": false},
              "axis": {"title": "Quantity adsorbed (cm³/g STP)", "values": [10, 40, 70, 100, 130, 160, 190], "tickCount": 100, "labelOverlap": false, "ticks": false, "labelPadding": 18, "labelFontSize": 19, "titleFontSize": 19.5, "titlePadding": 38, "titleY": 177}},
            "order": {"field": "i", "type": "quantitative"},
            "color": {"field": "s", "type": "nominal", "sort": null,
              "scale": {"domain": ["ZrO2", "CuZn/ZrO2_DP", "CuCo/ZrO2_DP", "CuNi/ZrO2_DP", "Cu/ZrO2_DP"], "range": ["#7030A0", "#92D050", "#000000", "#FF0000", "#4472C4"]},
              "legend": {"title": null, "orient": "none", "legendX": 18, "legendY": 8, "labelFontSize": 19, "labelOffset": 21, "rowPadding": 9}}
          }
        },
        {
          "data": {"values": [{}]},
          "mark": {"type": "text", "fontSize": 21},
          "encoding": {"x": {"datum": 0.828}, "y": {"datum": 168}, "text": {"value": "B"}}
        }
      ]
    }
  ]
}
